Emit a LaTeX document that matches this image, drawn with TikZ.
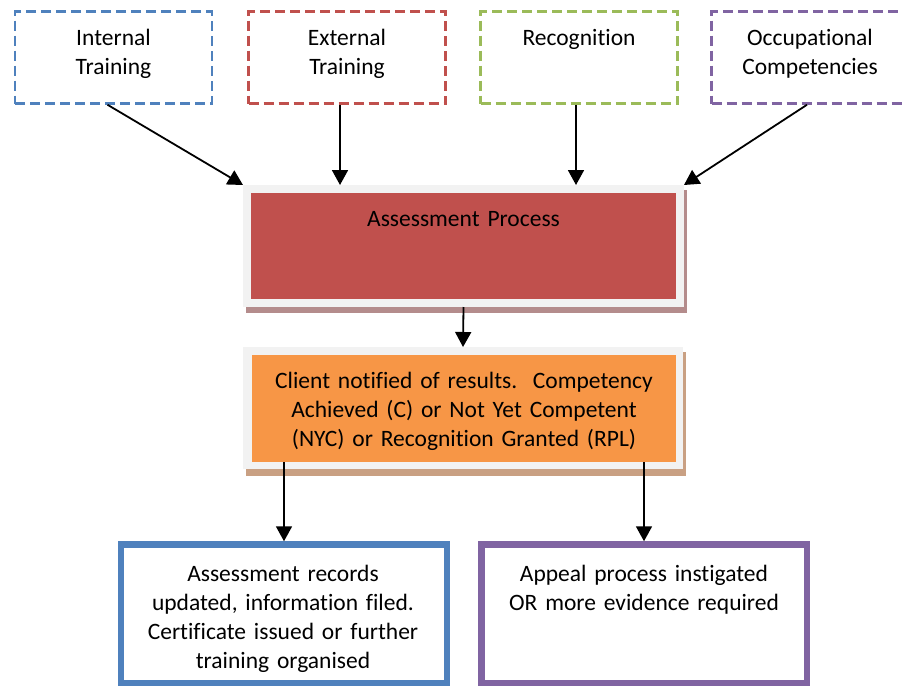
\documentclass[tikz,border=0pt]{standalone}
\usepackage{fontspec}
\setmainfont{Carlito}[Ligatures={NoCommon,NoContextual,NoRare},Contextuals=NoAlternate]
\usetikzlibrary{arrows.meta}
\definecolor{cblue}{HTML}{4F81BD}
\definecolor{cred}{HTML}{C0504D}
\definecolor{cgreen}{HTML}{9BBB59}
\definecolor{cpurple}{HTML}{8064A2}
\definecolor{corange}{HTML}{F79646}
\definecolor{framegray}{HTML}{F2F2F2}
\definecolor{redshadow}{HTML}{B48C8C}
\definecolor{orangeshadow}{HTML}{C9A083}
\begin{document}
\begin{tikzpicture}[x=1pt,y=-1pt,
  srcbox/.style={draw=#1, line width=2.5pt, dash pattern=on 10pt off 5pt, minimum width=197pt, minimum height=92pt, inner sep=0pt},
  lbl/.style={font=\fontsize{23.5}{29.3}\selectfont, align=center, text width=#1, inner sep=0pt, anchor=base},
  arr/.style={line width=1.8pt, -{Triangle[length=15pt,width=16pt]}},
  plain/.style={inner sep=0pt, outer sep=0pt},
  resbox/.style={draw=#1, line width=6.5pt, minimum width=326pt, minimum height=138.5pt, inner sep=0pt}
]
\useasboundingbox (0,0) rectangle (903,686);
\clip (0,0) rectangle (903,686);
% top source boxes
\node[srcbox=cblue] (int) at (113.5,57.5) {};
\node[lbl=190pt] (intT) at (113.5,45) {Internal\\Training};
\node[srcbox=cred] (ext) at (347,57.5) {};
\node[lbl=190pt] (extT) at (347,45) {External\\Training};
\node[srcbox=cgreen] (rec) at (579,57.5) {};
\node[lbl=190pt] (recT) at (579,45) {Recognition};
\node[srcbox=cpurple] (occ) at (810,57.5) {};
\node[lbl=190pt] (occT) at (810,45) {Occupational\\Competencies};
% assessment process
\node[plain, fill=redshadow, minimum width=441pt, minimum height=123pt] (apsh) at (466.5,251.5) {};
\node[plain, fill=framegray, minimum width=441pt, minimum height=122pt] (apfr) at (463.5,246) {};
\node[plain, fill=cred, minimum width=425pt, minimum height=106pt] (ap) at (463.5,246) {};
\node[lbl=400pt] (apT) at (463.5,226) {Assessment Process};
% notification
\node[plain, fill=orangeshadow, minimum width=440pt, minimum height=124pt] (ntsh) at (466,414) {};
\node[plain, fill=framegray, minimum width=440pt, minimum height=122pt] (ntfr) at (463,408) {};
\node[plain, fill=corange, minimum width=424pt, minimum height=107pt] (nt) at (464,408.5) {};
\node[lbl=410pt] (ntT) at (464,388) {Client notified of results.\ \ Competency\\Achieved (C) or Not Yet Competent\\(NYC) or Recognition Granted (RPL)};
% results
\node[resbox=cblue] (recb) at (284,613.75) {};
\node[lbl=300pt] (recbT) at (283,581) {Assessment records\\updated, information filed.\\Certificate issued or further\\training organised};
\node[resbox=cpurple, minimum width=325.5pt] (app) at (644,613.75) {};
\node[lbl=300pt] (appT) at (644,581) {Appeal process instigated\\OR more evidence required};
% connectors
\draw[arr] ([xshift=-6pt]int.south) -- (apfr.north west);
\draw[arr] ([xshift=-7pt]ext.south) -- ([xshift=-7pt]ext.south |- apfr.north);
\draw[arr] ([xshift=-3pt]rec.south) -- ([xshift=-3pt]rec.south |- apfr.north);
\draw[arr] ([xshift=-3pt]occ.south) -- (apfr.north east);
\draw[arr] (apfr.south) -- (ntfr.north);
\draw[arr] (nt.south -| recb.north) -- (recb.north);
\draw[arr] (nt.south -| app.north) -- (app.north);
\end{tikzpicture}
\end{document}
